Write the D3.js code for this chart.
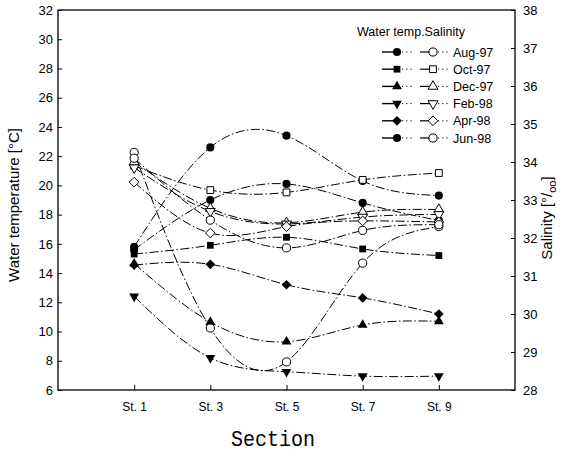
<!DOCTYPE html>
<html><head><meta charset="utf-8">
<script src="https://cdn.jsdelivr.net/npm/d3@7/dist/d3.min.js"></script>
<style>
body{margin:0;background:#fff;}
svg{display:block;font-family:"Liberation Sans",Arial,sans-serif;}
</style></head>
<body>
<svg id="chart" width="562" height="452"></svg>
<script>
// ---- data ----
const stationLabels = ["St. 1","St. 3","St. 5","St. 7","St. 9"];
const stationNums = [1,3,5,7,9];
const months = ["Aug-97","Oct-97","Dec-97","Feb-98","Apr-98","Jun-98"];
const markerKinds = ["circle","square","triangle","triangleDown","diamond","circle"];
// water temperature (°C), left axis
const tempAug97 = [15.8, 22.6, 23.4, 20.3, 19.3];
const tempOct97 = [15.3, 15.9, 16.45, 15.65, 15.2];
const tempDec97 = [14.65, 10.65, 9.3, 10.45, 10.7];
const tempFeb98 = [12.4, 8.2, 7.25, 6.95, 6.95];
const tempApr98 = [14.55, 14.6, 13.2, 12.3, 11.2];
const tempJun98 = [15.6, 19.0, 20.1, 18.8, 17.6];
// salinity (‰), right axis
const salAug97 = [34.25, 29.63, 28.74, 31.34, 32.3];
const salOct97 = [33.9, 33.26, 33.2, 33.53, 33.71];
const salDec97 = [34.0, 32.78, 32.4, 32.68, 32.75];
const salFeb98 = [33.85, 32.7, 32.37, 32.55, 32.62];
const salApr98 = [33.47, 32.13, 32.3, 32.45, 32.42];
const salJun98 = [34.1, 32.47, 31.74, 32.2, 32.35];
const tempTicks = [6,8,10,12,14,16,18,20,22,24,26,28,30,32];
const salTicks = [28,29,30,31,32,33,34,35,36,37,38];

const temps = [tempAug97,tempOct97,tempDec97,tempFeb98,tempApr98,tempJun98];
const sals = [salAug97,salOct97,salDec97,salFeb98,salApr98,salJun98];

// ---- layout ----
const svg = d3.select("#chart");
const L = 58, R = 515, T = 10, B = 390;
const x = d3.scaleLinear().domain([-1, 11]).range([L, R]);
const yT = d3.scaleLinear().domain([6, 32]).range([B, T]);
const yS = d3.scaleLinear().domain([28, 38]).range([B, T]);

function symPath(kind) {
  const map = {circle:d3.symbolCircle, square:d3.symbolSquare, triangle:d3.symbolTriangle,
               triangleDown:d3.symbolTriangle, diamond:d3.symbolDiamond2};
  const s = {circle:52, square:46, triangle:42, triangleDown:42, diamond:60}[kind];
  return d3.symbol().type(map[kind]).size(s)();
}
function placeSym(sel, kind, cx, cy) {
  sel.attr("d", symPath(kind))
     .attr("transform", `translate(${cx},${cy})` + (kind === "triangleDown" ? " rotate(180)" : ""));
}

// ---- axes ----
const fontTick = "13px";
const gL = svg.append("g").attr("transform", `translate(${L},0)`);
gL.call(d3.axisLeft(yT).tickValues(d3.range(6, 32.01, 0.5)).tickSize(-2).tickFormat(""));
gL.call(d3.axisLeft(yT).tickValues(tempTicks).tickSize(-4).tickPadding(5).tickFormat(d3.format("d")));
const gR = svg.append("g").attr("transform", `translate(${R},0)`);
gR.call(d3.axisRight(yS).tickValues(d3.range(28, 38.01, 0.2)).tickSize(-2).tickFormat(""));
gR.call(d3.axisRight(yS).tickValues(salTicks).tickSize(-4).tickPadding(8).tickFormat(d3.format("d")));
const gB = svg.append("g").attr("transform", `translate(0,${B})`);
gB.call(d3.axisBottom(x).tickValues(stationNums).tickSize(-5).tickPadding(12)
   .tickFormat((d,i) => stationLabels[i]));
svg.selectAll(".domain").remove();
svg.selectAll(".tick line").attr("stroke", "#000");
svg.selectAll(".tick text").attr("fill", "#000").style("font-size", fontTick)
   .style("font-family", '"Liberation Sans",Arial,sans-serif');
gB.selectAll(".tick text").style("font-size", "12px");

// frame
svg.append("rect").attr("x", L).attr("y", T).attr("width", R - L).attr("height", B - T)
   .attr("fill", "none").attr("stroke", "#000").attr("stroke-width", 1.3);

// ---- lines ----
const dash = "9,2.5,1.5,2.5";
const lineT = d3.line().x((d,i) => x(stationNums[i])).y(d => yT(d)).curve(d3.curveNatural);
const lineS = d3.line().x((d,i) => x(stationNums[i])).y(d => yS(d)).curve(d3.curveNatural);
const gLines = svg.append("g");
temps.forEach(arr => gLines.append("path").attr("d", lineT(arr)).attr("fill","none")
  .attr("stroke","#000").attr("stroke-width",1).attr("stroke-dasharray",dash));
sals.forEach(arr => gLines.append("path").attr("d", lineS(arr)).attr("fill","none")
  .attr("stroke","#000").attr("stroke-width",1).attr("stroke-dasharray",dash));

// ---- markers ----
const gM = svg.append("g");
temps.forEach((arr, k) => arr.forEach((v, i) => {
  gM.append("path").call(placeSym, markerKinds[k], x(stationNums[i]), yT(v)).attr("fill","#000");
}));
sals.forEach((arr, k) => arr.forEach((v, i) => {
  gM.append("path").call(placeSym, markerKinds[k], x(stationNums[i]), yS(v))
    .attr("fill","#fff").attr("stroke","#000").attr("stroke-width",1);
}));

// ---- legend ----
const lg = svg.append("g");
lg.append("text").attr("x", 357).attr("y", 36).text("Water temp.Salinity")
  .style("font-size","12.5px").attr("fill","#000");
months.forEach((m, k) => {
  const yy = 52 + k * 17.2;
  lg.append("line").attr("x1",382).attr("x2",397).attr("y1",yy).attr("y2",yy).attr("stroke","#000").attr("stroke-width",1.4);
  lg.append("line").attr("x1",402).attr("x2",413).attr("y1",yy).attr("y2",yy).attr("stroke","#000").attr("stroke-dasharray","1.2,3");
  lg.append("path").call(placeSym, markerKinds[k], 397, yy).attr("fill","#000");
  lg.append("line").attr("x1",420).attr("x2",433).attr("y1",yy).attr("y2",yy).attr("stroke","#000").attr("stroke-width",1.2);
  lg.append("line").attr("x1",438).attr("x2",449).attr("y1",yy).attr("y2",yy).attr("stroke","#000").attr("stroke-dasharray","1.2,3");
  lg.append("path").call(placeSym, markerKinds[k], 433, yy).attr("fill","#fff").attr("stroke","#000");
  lg.append("text").attr("x", 453).attr("y", yy + 4.5).text(m).style("font-size","12.5px").attr("fill","#000");
});

// ---- axis titles ----
svg.append("text").attr("transform", "translate(19,205) rotate(-90)").attr("text-anchor","middle")
  .style("font-size","15px").attr("fill","#000").text("Water temperature [°C]");
const st = svg.append("text").attr("transform", "translate(552,218) rotate(-90)").attr("text-anchor","middle")
  .style("font-size","15px").attr("fill","#000");
st.append("tspan").text("Salinity [°/");
st.append("tspan").attr("dy", 4).style("font-size","11px").text("oo");
st.append("tspan").attr("dy", -4).text("]");
svg.append("text").attr("x", 273).attr("y", 446).attr("text-anchor","middle")
  .style("font-family",'"Liberation Mono","DejaVu Sans Mono",monospace').style("font-size","22px")
  .attr("textLength", 84).attr("lengthAdjust","spacingAndGlyphs").attr("fill","#000").text("Section");
</script>
</body></html>
